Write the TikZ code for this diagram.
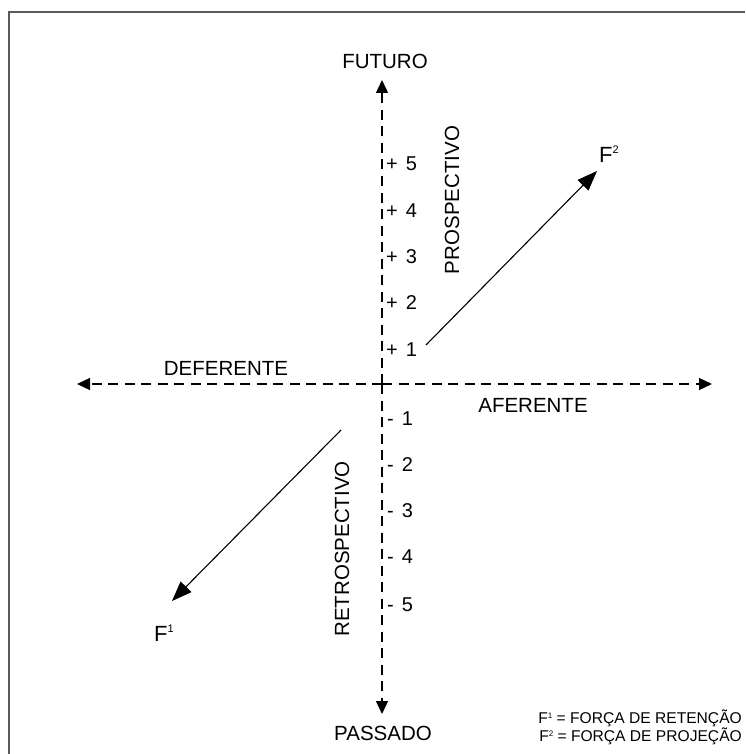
\documentclass[tikz,border=0pt]{standalone}
\usepackage{fontspec}
\setmainfont{Liberation Sans}
\usetikzlibrary{arrows.meta}
\tikzset{
  lbl/.style={inner sep=0pt, font=\fontsize{20.5}{22}\selectfont},
  tick/.style={inner sep=0pt, anchor=west, font=\fontsize{20}{22}\selectfont},
  legend/.style={inner sep=0pt, anchor=east, font=\fontsize{15.6}{17}\selectfont},
  axis/.style={line width=1.3pt, dash pattern=on 10pt off 6.5pt, -{Triangle[length=13pt,width=12pt]}},
  force/.style={line width=1.1pt, -{Triangle[length=20pt,width=15pt]}},
}
\newcommand{\tk}[2]{#1\hspace{0.4em}#2}
\begin{document}
\begin{tikzpicture}[x=1pt,y=-1pt]
\useasboundingbox (0,0) rectangle (745,754);
% frame
\draw[line width=2pt, color=black!65] (745,12) -- (9,12) -- (9,754);
% axis end points
\coordinate (ctr) at (382,384);
\coordinate (top) at (382,80);
\coordinate (bot) at (382,714);
\coordinate (lft) at (77,384);
\coordinate (rgt) at (712,384);
\draw[axis] (ctr) -- (top);
\draw[axis] (ctr) -- (bot);
\draw[axis] (ctr) -- (lft);
\draw[axis] (ctr) -- (rgt);
% axis labels
\node[lbl] (futuro) at (385,61) {FUTURO};
\node[lbl] (passado) at (383,733) {PASSADO};
\node[lbl] (def) at (226,368) {DEFERENTE};
\node[lbl] (afe) at (533,405) {AFERENTE};
\node[lbl, rotate=90] (pros) at (452,200) {PROSPECTIVO};
\node[lbl, rotate=90] (retro) at (342,549) {RETROSPECTIVO};
% ticks
\node[tick] (p5) at (386,164) {\tk{+}{5}};
\node[tick] (p4) at (386,211) {\tk{+}{4}};
\node[tick] (p3) at (386,257) {\tk{+}{3}};
\node[tick] (p2) at (386,303) {\tk{+}{2}};
\node[tick] (p1) at (386,350) {\tk{+}{1}};
\node[tick] (m1) at (387,419) {\tk{-}{1}};
\node[tick] (m2) at (387,465) {\tk{-}{2}};
\node[tick] (m3) at (387,511) {\tk{-}{3}};
\node[tick] (m4) at (387,557) {\tk{-}{4}};
\node[tick] (m5) at (387,605) {\tk{-}{5}};
% forces
\coordinate (f2a) at (426,345);
\coordinate (f2b) at (597,171);
\coordinate (f1a) at (341,430);
\coordinate (f1b) at (172,601);
\draw[force] (f2a) -- (f2b);
\draw[force] (f1a) -- (f1b);
\node[inner sep=0pt, anchor=base west, font=\fontsize{22}{24}\selectfont] (F2) at (599,163) {F\raisebox{9pt}{\fontsize{11}{11}\selectfont 2}};
\node[inner sep=0pt, anchor=base west, font=\fontsize{22}{24}\selectfont] (F1) at (154,641) {F\raisebox{9pt}{\fontsize{11}{11}\selectfont 1}};
% legend
\node[legend] (leg1) at (742,718) {F\raisebox{5pt}{\fontsize{8}{8}\selectfont 1} = FORÇA DE RETENÇÃO};
\node[legend] (leg2) at (742,736) {F\raisebox{5pt}{\fontsize{8}{8}\selectfont 2} = FORÇA DE PROJEÇÃO};
\end{tikzpicture}
\end{document}
